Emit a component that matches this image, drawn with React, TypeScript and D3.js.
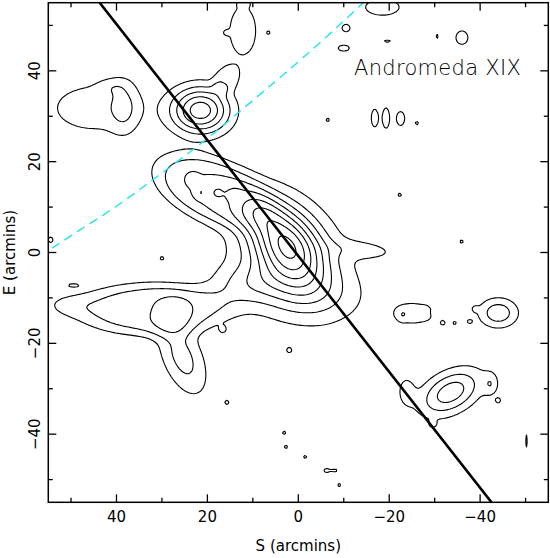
import React, { useMemo } from "react";
import * as d3 from "d3";

const W = 550;
const H = 558;
const xDomain = [55, -55];
const yDomain = [-55, 55];
const majorTicks = [40, 20, 0, -20, -40];
const minorTicks = [50, 30, 10, -10, -30, -50];
const contourLevels = [1, 2, 3, 4, 5, 6, 7, 8, 9];

// density components: [x, y, sigmaAlong, sigmaAcross, angleDeg, amplitude, power]
const coreBlobs = [
  [2.5, 1.5, 7, 4.6, 52, 6.6, 2],
  [2, -1, 12, 9, 45, 1.7, 2],
  [0, -9, 9, 4, 5, 1.3, 2],
  [-15, 0.5, 5, 1.4, 5, 1.15, 2],
  [12, -7, 6, 3.2, -10, 1.4, 2],
  [8, 9, 4, 3, 30, 1.0, 2],
];
const streamBlobs = [
  [19, 13.8, 11.5, 5.8, 22, 2.9, 4],
  [23.3, 16.2, 0.9, 0.9, 0, 0.9, 2],
  [21.4, 13.2, 0.9, 0.9, 0, 0.9, 2],
  [17.8, 13.2, 1.0, 0.9, 0, 0.9, 2],
  [14.3, 12.8, 1.1, 0.9, 0, 0.9, 2],
];
const lobeBlobs = [
  [21.5, 31.3, 4.5, 3.6, 0, 5.6, 2],
  [15.5, 38.6, 3.6, 2.4, 126, 1.3, 4],
  [12.2, 48.8, 5.0, 2.7, 90, 1.8, 4],
  [16, 48.4, 0.6, 0.6, 0, 1.25, 2],
  [6.6, 48.4, 0.6, 0.6, 0, 1.25, 2],
  [12, 54.8, 1.2, 0.6, 0, 1.3, 2],
];
const westBlobs = [
  [45, 31.8, 8.5, 4.8, 0, 1.55, 2],
  [38.3, 32, 2.2, 4.2, 0, 1.4, 2],
  [41, 36.5, 2.2, 1.3, 0, 0.7, 2],
  [54.5, 2.8, 0.8, 0.9, 0, 1.25, 2],
];
const armBlobs = [
  [32.4, -12.5, 14.3, 5, 0, 2.6, 4],
  [51.5, -11.5, 4, 2, 0, 0.9, 2],
  [49.5, -7.2, 1.4, 0.45, 0, 1.15, 2],
  [26.8, -12.5, 2.5, 2.2, 0, 0.8, 2],
  [25.5, -23, 6.5, 3.2, 67, 2.4, 2],
];
const eastBlobs = [
  [-25.3, -13.4, 3.4, 1.9, 0, 1.75, 2],
  [-22.8, -13.8, 0.7, 1.0, 0, 0.6, 2],
  [-27.8, -12.3, 0.8, 0.45, 0, 0.55, 2],
  [-27.8, -14.3, 0.8, 0.45, 0, 0.55, 2],
  [-44, -13.3, 4.0, 3.0, 0, 2.15, 4],
  [-34.4, -15.5, 0.5, 0.5, 0, 1.25, 2],
  [-37.7, -15.2, 0.7, 0.6, 0, 1.3, 2],
  [-33.5, -30.8, 5.2, 3.1, 152, 3.6, 2],
  [-23.7, -30.4, 1.4, 2.4, 0, 1.35, 2],
  [-42.4, -29, 1.2, 1.8, 0, 1.4, 2],
  [-44, -32.6, 0.6, 0.6, 0, 1.25, 2],
  [-29.6, -37.8, 0.6, 0.6, 0, 1.2, 2],
  [-50.2, -41.5, 0.35, 2.2, 0, 1.2, 2],
  [-8, -48, 1.0, 0.4, 0, 1.25, 2],
];
const northBlobs = [
  [-18.5, 54, 3.8, 1.8, 0, 1.6, 2],
  [-10.5, 49.4, 1.2, 1.1, 0, 1.3, 2],
  [-10, 45, 1.7, 0.9, 0, 1.3, 2],
  [-19.6, 46.5, 1.0, 0.4, 0, 1.25, 2],
  [-30.5, 47.6, 0.4, 0.8, 0, 1.2, 2],
  [-36, 47.3, 1.6, 1.8, 0, 1.4, 2],
  [-16.8, 29.6, 0.75, 2.0, 0, 1.6, 2],
  [-19.3, 29.6, 0.75, 2.3, 0, 1.6, 2],
  [-22.5, 29.5, 1.0, 1.7, 0, 1.5, 2],
];
const specks = [
  [-6.5, 29.2], [-26.1, 28.5], [-22.3, 12.7], [-35.9, 2.4], [30, -1.3],
  [3.1, -39.7], [2.7, -42.8], [-1.5, -45], [-6.1, -48], [-9, -51.2],
  [2, -21.5], [16.6, -17], [15.7, -33], [-31.8, -15.5], [-38.8, -12.4],
];

// major-axis line and ellipse arc (arcmin)
const axisLineX = [43.7, -42.5];
const axisLineY = [55, -55];
const arcX = [54.2, 47.9, 39.9, 32.6, 27.5, 20.9, 17.9, 9.9, 3.3, -5.1, -14.3];
const arcY = [0.95, 5.1, 10.1, 15.6, 19.3, 24.4, 26.8, 33.6, 39.1, 46.4, 55];

const margin = { left: 48.3, top: 2.7, right: 1.7, bottom: 55.7 };
const font = "'DejaVu Sans', sans-serif";

export default function App() {
  const xs = d3.scaleLinear().domain(xDomain).range([margin.left, W - margin.right]);
  const ys = d3.scaleLinear().domain(yDomain).range([H - margin.bottom, margin.top]);
  const x0p = margin.left, x1p = W - margin.right, y0p = margin.top, y1p = H - margin.bottom;

  const contourPaths = useMemo(() => {
    const step = 0.4, gx0 = -57, gy0 = -57;
    const nx = Math.round(114 / step) + 1;
    const ny = nx;
    const values = new Float64Array(nx * ny);
    const all = [
      ...coreBlobs, ...streamBlobs, ...lobeBlobs, ...westBlobs, ...armBlobs,
      ...eastBlobs, ...northBlobs,
      ...specks.map(([x, y]) => [x, y, 0.6, 0.6, 0, 1.2, 2]),
    ];
    for (const [bx, by, sa, sb, ang, amp, pw] of all) {
      const c = Math.cos((ang * Math.PI) / 180), s = Math.sin((ang * Math.PI) / 180);
      const reach = Math.max(sa, sb) * 4.5;
      const i0 = Math.max(0, Math.floor((bx - reach - gx0) / step));
      const i1 = Math.min(nx - 1, Math.ceil((bx + reach - gx0) / step));
      const j0 = Math.max(0, Math.floor((by - reach - gy0) / step));
      const j1 = Math.min(ny - 1, Math.ceil((by + reach - gy0) / step));
      for (let j = j0; j <= j1; j++) {
        const dy = gy0 + j * step - by;
        for (let i = i0; i <= i1; i++) {
          const dx = gx0 + i * step - bx;
          const a = dx * c + dy * s;
          const b = -dx * s + dy * c;
          const r2 = (a / sa) ** 2 + (b / sb) ** 2;
          values[j * nx + i] += amp * Math.exp(-0.5 * Math.pow(r2, pw / 2));
        }
      }
    }
    const contours = d3.contours().size([nx, ny]).thresholds(contourLevels)(Array.from(values));
    const proj = d3.geoTransform({
      point(x: number, y: number) {
        (this as any).stream.point(xs(gx0 + (x - 0.5) * step), ys(gy0 + (y - 0.5) * step));
      },
    });
    const path = d3.geoPath(proj);
    return contours.map((cn) => path(cn as any) || "");
  }, []);

  const linePath = d3.line()(axisLineX.map((x, i) => [xs(x), ys(axisLineY[i])]) as any) || "";
  const arcPath =
    d3.line().curve(d3.curveBasis)(arcX.map((x, i) => [xs(x), ys(arcY[i])]) as any) || "";

  const fmt = (v: number) => (v < 0 ? "\u2212" + Math.abs(v) : String(v));
  const majLen = 8, minLen = 4.5;

  const tickLines: React.ReactElement[] = [];
  const addTicks = (vals: number[], len: number, key: string) => {
    vals.forEach((v, k) => {
      const px = xs(v), py = ys(v);
      tickLines.push(<line key={key + "b" + k} x1={px} x2={px} y1={y1p} y2={y1p - len} />);
      tickLines.push(<line key={key + "t" + k} x1={px} x2={px} y1={y0p} y2={y0p + len} />);
      tickLines.push(<line key={key + "l" + k} x1={x0p} x2={x0p + len} y1={py} y2={py} />);
      tickLines.push(<line key={key + "r" + k} x1={x1p} x2={x1p - len} y1={py} y2={py} />);
    });
  };
  addTicks(majorTicks, majLen, "M");
  addTicks(minorTicks, minLen, "m");

  return (
    <svg
      width={W}
      height={H}
      style={{ position: "absolute", left: 0, top: 0, background: "#fff" }}
      fontFamily={font}
    >
      <defs>
        <clipPath id="plotClip">
          <rect x={x0p} y={y0p} width={x1p - x0p} height={y1p - y0p} />
        </clipPath>
      </defs>
      <rect x={0} y={0} width={W} height={H} fill="#fff" />
      <g clipPath="url(#plotClip)">
        {contourPaths.map((d, i) => (
          <path key={i} d={d} fill="none" stroke="#000" strokeWidth={1.1} strokeLinejoin="round" />
        ))}
        <path d={arcPath} fill="none" stroke="#22e4f0" strokeWidth={1.4} strokeDasharray="9 6" />
        <path d={linePath} fill="none" stroke="#000" strokeWidth={2.6} />
      </g>
      <rect x={x0p} y={y0p} width={x1p - x0p} height={y1p - y0p} fill="none" stroke="#000" strokeWidth={1.5} />
      <g stroke="#000" strokeWidth={1.3}>{tickLines}</g>
      {majorTicks.map((v) => (
        <text key={"xl" + v} x={xs(v)} y={522} textAnchor="middle" fontSize={15} fill="#000">
          {fmt(v)}
        </text>
      ))}
      {majorTicks.map((v) => (
        <text
          key={"yl" + v}
          transform={`translate(40,${ys(v)}) rotate(-90)`}
          textAnchor="middle"
          fontSize={15}
          fill="#000"
        >
          {fmt(v)}
        </text>
      ))}
      <text x={xs(0)} y={551} textAnchor="middle" fontSize={15} fill="#000">
        S (arcmins)
      </text>
      <text transform={`translate(15,${ys(0)}) rotate(-90)`} textAnchor="middle" fontSize={15} fill="#000">
        E (arcmins)
      </text>
      <text x={354} y={75} fontSize={21} fontWeight={200} fill="#000" letterSpacing={0.3}>
        Andromeda XIX
      </text>
    </svg>
  );
}
